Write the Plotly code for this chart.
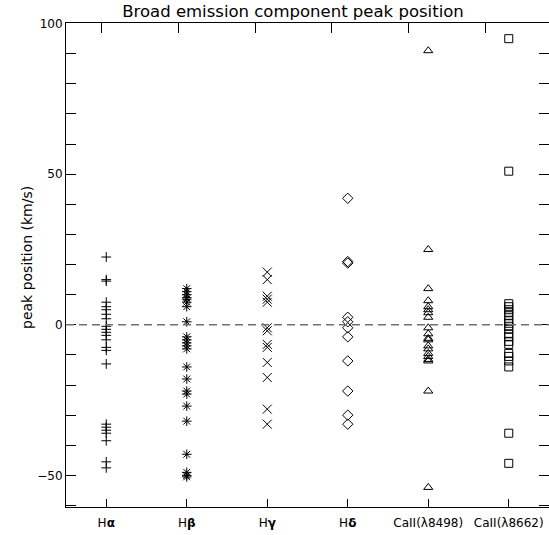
import plotly.graph_objects as go

# ---- data ----
line_labels = ["H<b>α</b>", "H<b>β</b>", "H<b>γ</b>", "H<b>δ</b>", "CaII(λ8498)", "CaII(λ8662)"]
line_positions = [1, 2, 3, 4, 5, 6]

h_alpha = [22.5, 15.0, 14.5, 7.5, 6.0, 5.0, 3.5, 2.0, -0.5, -1.5, -2.5, -3.5,
           -5.0, -7.5, -8.5, -13.0, -33.0, -34.0, -35.0, -36.0, -38.5, -45.5, -47.5]
h_beta = [12.0, 11.0, 10.0, 9.0, 8.5, 7.5, 6.0, 1.0, -4.0, -5.0, -6.0, -7.0, -8.0,
          -14.0, -18.0, -22.0, -23.0, -27.0, -32.0, -43.0, -49.0, -50.0, -50.5]
h_gamma = [17.5, 15.0, 9.5, 8.5, 7.5, -1.0, -2.0, -6.5, -7.5, -12.5, -17.5, -28.0, -33.0]
h_delta = [42.0, 21.0, 20.5, 2.5, 1.0, -1.0, -4.0, -12.0, -22.0, -30.0, -33.0]
ca_8498 = [91.0, 25.0, 12.0, 8.0, 6.0, 5.0, 4.0, 2.5, -1.0, -3.0, -4.5, -5.0, -7.0,
           -8.0, -9.5, -10.5, -11.5, -12.0, -22.0, -54.0]
ca_8662 = [95.0, 51.0, 7.0, 6.0, 5.0, 4.0, 3.0, 1.5, 0.5, -0.5, -1.5, -3.0, -4.0,
           -5.5, -6.5, -9.5, -10.5, -12.0, -14.0, -36.0, -46.0]

series = [h_alpha, h_beta, h_gamma, h_delta, ca_8498, ca_8662]
symbols = ["cross-thin-open", "asterisk-open", "x-thin-open", "diamond-open",
           "triangle-up-open", "square-open"]
sizes = [7, 8, 9, 8, 8, 8]

top_tick_vals = [1, 2, 3, 4, 5, 6]
y_tick_vals = [-50, 0, 50, 100]

FONT = "DejaVu Sans"
L, R, T, B, W, H = 66, 0, 23, 28, 549, 535
PW, PH = W - L - R, H - T - B

fig = go.Figure()
for pos, vals, sym, sz in zip(line_positions, series, symbols, sizes):
    fig.add_trace(go.Scatter(
        x=[pos] * len(vals), y=vals, mode="markers",
        marker=dict(symbol=sym, size=sz, color="black",
                    line=dict(color="black", width=1)),
        showlegend=False, hoverinfo="skip"))

# dummy trace to activate top axis
fig.add_trace(go.Scatter(x=[None], y=[None], xaxis="x2", mode="markers",
                         showlegend=False, hoverinfo="skip"))

fig.add_hline(y=0, line=dict(color="#707070", width=1.5, dash="8px,5px"))

fig.add_annotation(text="peak position (km/s)", textangle=-90,
                   xref="paper", yref="paper",
                   x=(27 - L) / PW, y=(H - B - 258) / PH,
                   xanchor="center", yanchor="middle", showarrow=False,
                   font=dict(size=14, family=FONT, color="black"))

fig.update_layout(
    width=W, height=H,
    margin=dict(l=L, r=R, t=T, b=B),
    paper_bgcolor="white", plot_bgcolor="white",
    font=dict(family=FONT, size=12, color="black"),
    title=dict(text="Broad emission component peak position",
               x=293 / W, xanchor="center", y=1 - 11 / H, yanchor="middle",
               font=dict(family=FONT, size=16.5, color="black")),
    xaxis=dict(range=[0.5, 6.5], tickmode="array", tickvals=line_positions,
               ticktext=line_labels, ticks="inside", ticklen=8, tickcolor="black",
               ticklabelstandoff=5,
               showline=True, linecolor="black", linewidth=1, mirror=False,
               showgrid=False, zeroline=False, tickfont=dict(size=12, family=FONT)),
    xaxis2=dict(overlaying="x", side="top", range=[0.535, 6.832],
                tickmode="array", tickvals=top_tick_vals, showticklabels=False,
                ticks="inside", ticklen=10, tickcolor="black",
                showline=True, linecolor="black", linewidth=1,
                showgrid=False, zeroline=False),
    yaxis=dict(range=[-60.5, 100.2], tickmode="array", tickvals=y_tick_vals,
               ticks="inside", ticklen=10, tickcolor="black",
               minor=dict(dtick=10, ticks="inside", ticklen=5, tickcolor="black", showgrid=False),
               showline=True, linecolor="black", linewidth=1, mirror="allticks",
               showgrid=False, zeroline=False,
               tickfont=dict(size=12, family=FONT)),
)

fig.write_html("out.html")
